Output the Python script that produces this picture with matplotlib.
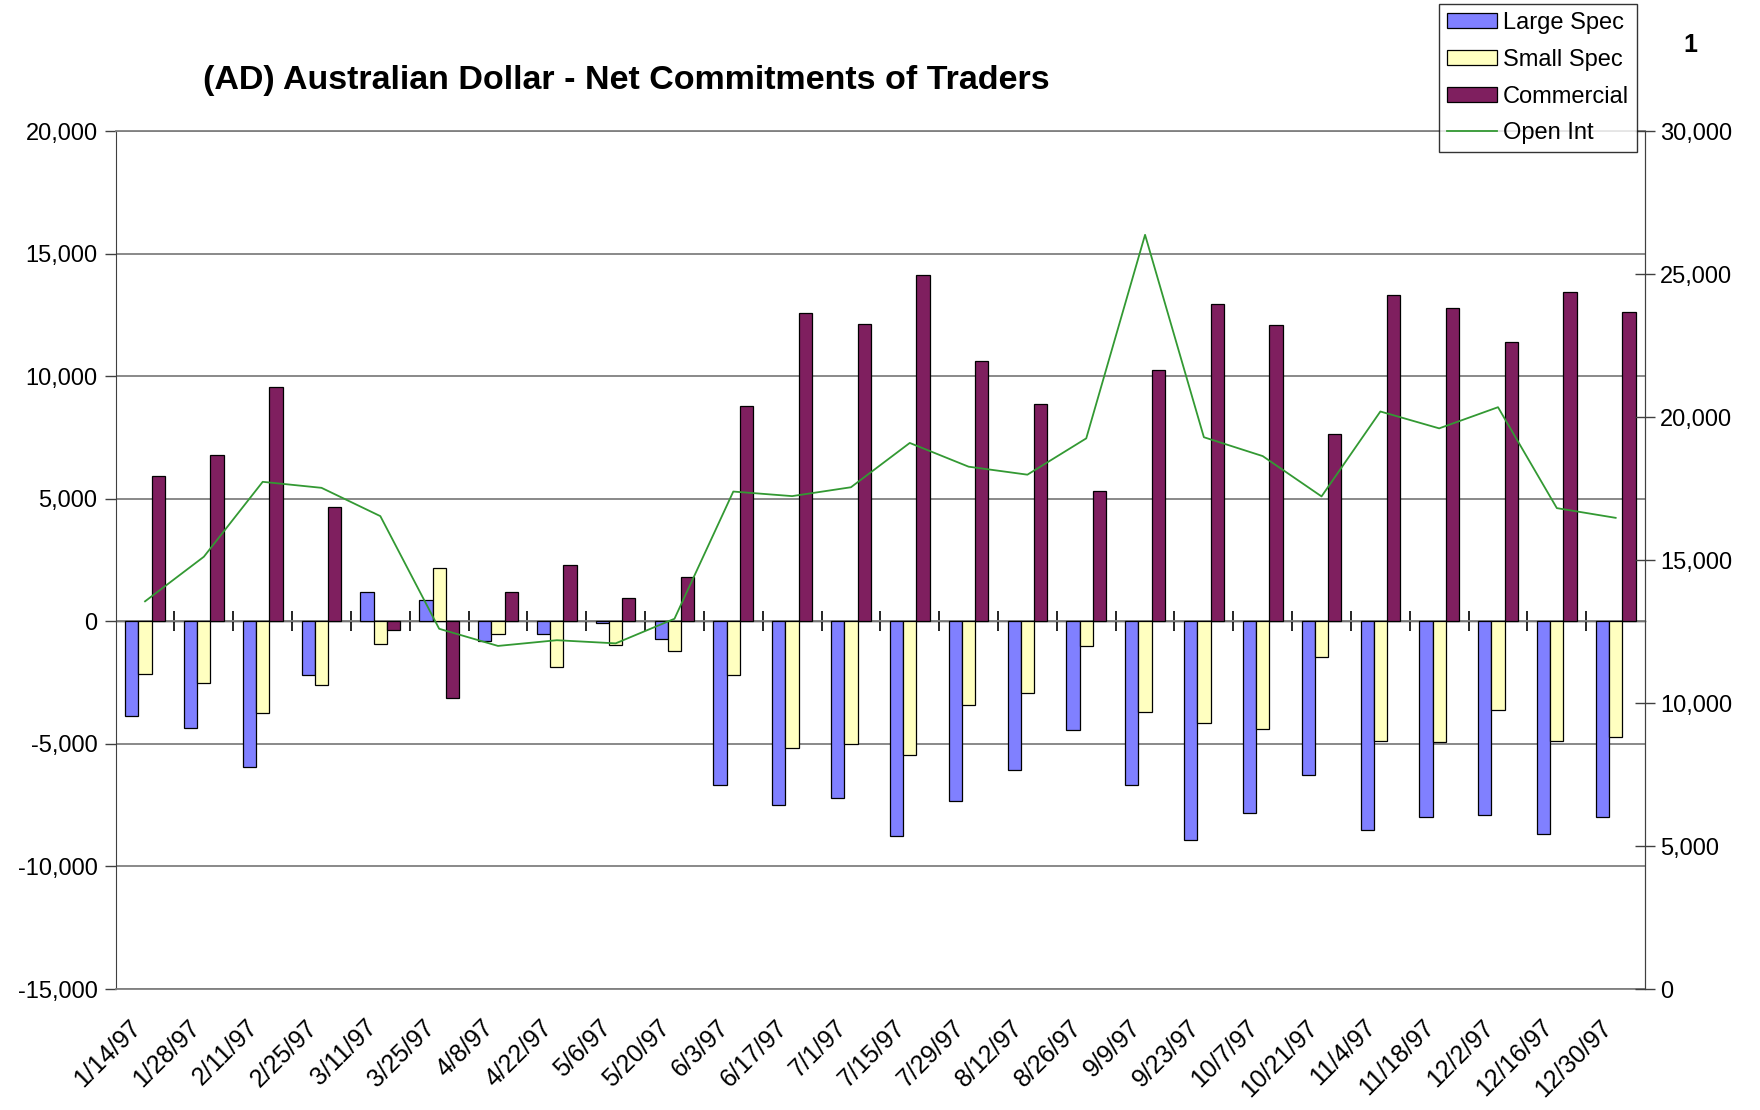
import numpy as np
import matplotlib.pyplot as plt
from matplotlib.ticker import FuncFormatter, FixedLocator
from matplotlib.transforms import ScaledTranslation

plt.rcParams['font.family'] = ['Liberation Sans', 'DejaVu Sans']

# Report dates (every two weeks, 1997)
dates = ["1/14/97", "1/28/97", "2/11/97", "2/25/97", "3/11/97", "3/25/97",
         "4/8/97", "4/22/97", "5/6/97", "5/20/97", "6/3/97", "6/17/97",
         "7/1/97", "7/15/97", "7/29/97", "8/12/97", "8/26/97", "9/9/97",
         "9/23/97", "10/7/97", "10/21/97", "11/4/97", "11/18/97", "12/2/97",
         "12/16/97", "12/30/97"]

# Net positions (left axis)
large_spec = [-3850, -4350, -5930, -2190, 1220, 890, -790, -530, -70, -700,
              -6660, -7500, -7190, -8750, -7310, -6060, -4450, -6690, -8910,
              -7810, -6250, -8530, -7970, -7890, -8660, -8000]
small_spec = [-2160, -2530, -3740, -2580, -930, 2170, -500, -1860, -960, -1190,
              -2190, -5170, -5020, -5470, -3410, -2910, -1020, -3690, -4160,
              -4380, -1470, -4880, -4940, -3610, -4880, -4700]
commercial = [5930, 6790, 9570, 4670, -370, -3130, 1190, 2320, 970, 1800,
              8780, 12580, 12140, 14130, 10630, 8880, 5340, 10280, 12970,
              12110, 7630, 13340, 12810, 11420, 13440, 12610]

# Open interest (right axis)
open_int = [13560, 15120, 17740, 17530, 16540, 12600, 12000, 12200, 12090,
            12950, 17400, 17240, 17550, 19100, 18270, 17990, 19260, 26380,
            19300, 18640, 17230, 20200, 19610, 20350, 16820, 16480]

LEFT_TICKS = [-15000, -10000, -5000, 0, 5000, 10000, 15000, 20000]
RIGHT_TICKS = [0, 5000, 10000, 15000, 20000, 25000, 30000]

comma_fmt = FuncFormatter(lambda v, p: f"{int(v):,}")


def main():
    fig = plt.figure(figsize=(17.6, 11.1), dpi=100)
    ax = fig.add_axes([0.0657, 0.109, 0.869, 0.7727])

    x = np.arange(len(dates))
    w = 0.225
    edge = dict(edgecolor="black", linewidth=0.9, zorder=3)
    b1 = ax.bar(x - w, large_spec, w, color="#8080FF", label="Large Spec", **edge)
    b2 = ax.bar(x, small_spec, w, color="#FFFFC0", label="Small Spec", **edge)
    b3 = ax.bar(x + w, commercial, w, color="#7F1F5F", label="Commercial", **edge)

    ax.set_xlim(-0.5, len(dates) - 0.5)
    ax.set_ylim(-15000, 20000)
    ax.set_yticks(LEFT_TICKS)
    ax.yaxis.set_major_formatter(comma_fmt)
    ax.grid(axis="y", color="#808080", linewidth=1.3, zorder=0)
    ax.set_axisbelow(True)
    ax.tick_params(axis="y", length=8, width=1, color="#404040",
                   labelsize=17, pad=5)

    # date labels along the bottom, no tick marks
    ax.set_xticks(x)
    ax.set_xticklabels(dates, rotation=45, ha="right", va="center",
                       rotation_mode="anchor", fontsize=18)
    ax.tick_params(axis="x", length=0, pad=25)
    shift = ScaledTranslation(-8 / 100, 0, fig.dpi_scale_trans)
    for lbl in ax.get_xticklabels():
        lbl.set_transform(lbl.get_transform() + shift)

    for side in ["left", "right"]:
        ax.spines[side].set_color("#404040")
    for side in ["top", "bottom"]:
        ax.spines[side].set_color("#808080")
        ax.spines[side].set_linewidth(1.3)

    # zero line with category separators
    zero_ax = ax.secondary_xaxis(15000 / 35000)
    zero_ax.spines["bottom"].set_color("black")
    zero_ax.spines["bottom"].set_linewidth(1.0)
    zero_ax.xaxis.set_major_locator(FixedLocator(x[:-1] + 0.5))
    zero_ax.tick_params(axis="x", direction="inout", length=15, width=1.2,
                        labelbottom=False)

    # open interest on the right axis
    ax2 = ax.twinx()
    line, = ax2.plot(x, open_int, color="#339933", linewidth=1.3,
                     label="Open Int", zorder=4)
    ax2.set_ylim(0, 30000)
    ax2.set_yticks(RIGHT_TICKS)
    ax2.yaxis.set_major_formatter(comma_fmt)
    ax2.tick_params(axis="y", direction="inout", length=14, width=1,
                    color="#404040", labelsize=17, pad=4)
    for side in ["top", "bottom", "left"]:
        ax2.spines[side].set_visible(False)
    ax2.spines["right"].set_color("#404040")

    fig.text(0.3556, 1 - 80 / 1110,
             "(AD) Australian Dollar - Net Commitments of Traders",
             ha="center", va="center", fontsize=24.5, fontweight="bold")
    fig.text(1690 / 1760, 1 - 45 / 1110, "1", ha="center", va="center",
             fontsize=18, fontweight="bold")

    leg = fig.legend([b1, b2, b3, line],
                     ["Large Spec", "Small Spec", "Commercial", "Open Int"],
                     loc="upper right", bbox_to_anchor=(1637 / 1760, 1 - 4 / 1110),
                     fontsize=17, frameon=True, fancybox=False, shadow=False,
                     handlelength=2.1, handleheight=0.6, handletextpad=0.25,
                     labelspacing=0.62, borderpad=0.35, borderaxespad=0)
    leg.get_frame().set_edgecolor("black")
    leg.get_frame().set_linewidth(1.0)
    leg.set_zorder(10)

    fig.savefig("out.png", dpi=100)


if __name__ == "__main__":
    main()
